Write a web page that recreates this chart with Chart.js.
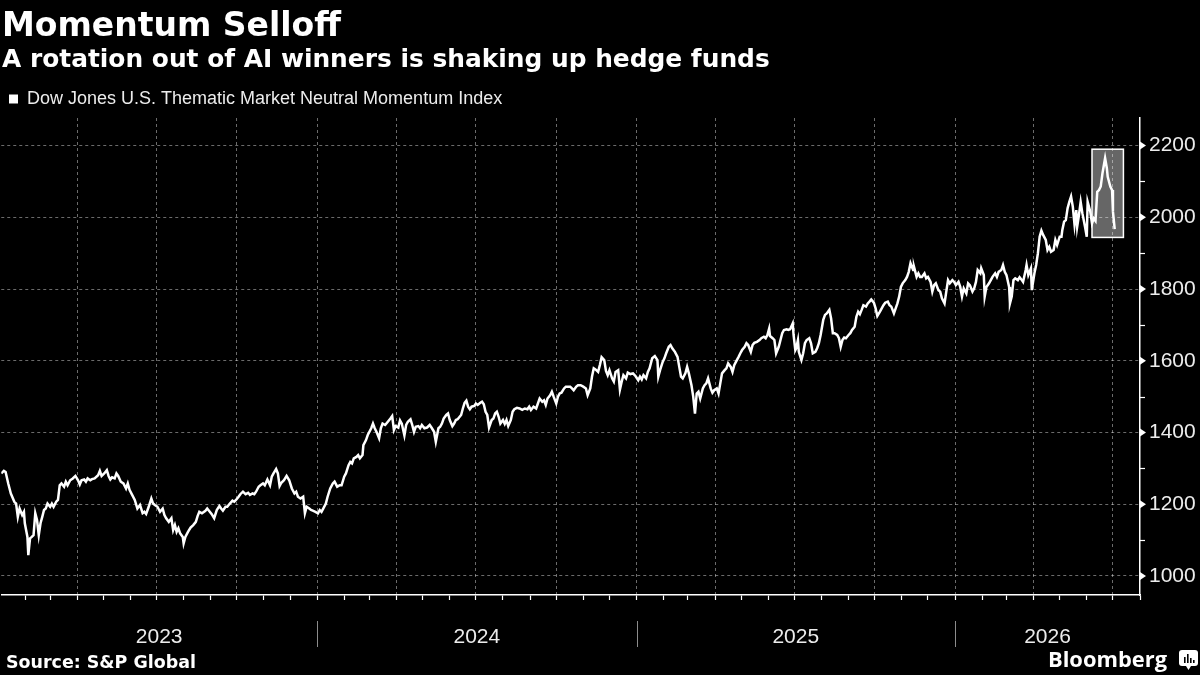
<!DOCTYPE html>
<html>
<head>
<meta charset="utf-8">
<script src="https://cdn.jsdelivr.net/npm/chart.js@4.4.1/dist/chart.umd.min.js"></script>
<style>
  html, body { margin:0; padding:0; background:#000; }
  #wrap { position:relative; width:1200px; height:675px; background:#000; overflow:hidden; }
  #chart { position:absolute; left:0; top:0; width:1200px; height:675px; }
  .txt { position:absolute; top:0; line-height:0; white-space:nowrap; color:#fff; }
  .txt .strut { display:inline-block; width:0; vertical-align:baseline; }
  #logoIcon { position:absolute; left:1179px; top:650px; }
</style>
</head>
<body>
<div id="wrap">
  <canvas id="chart" width="1200" height="675"></canvas>
  <div class="txt" style="left:2px"><span class="strut" style="height:36px"></span><span id="title">Momentum Selloff</span></div>
  <div class="txt" style="left:2px"><span class="strut" style="height:67px"></span><span id="subtitle">A rotation out of AI winners is shaking up hedge funds</span></div>
  <div class="txt" style="left:6px"><span class="strut" style="height:668px"></span><span id="source">Source: S&amp;P Global</span></div>
  <div class="txt" style="left:1048px"><span class="strut" style="height:667px"></span><span id="brand">Bloomberg</span></div>
  <svg id="logoIcon" width="19" height="21" viewBox="0 0 19 21">
    <rect x="0" y="0" width="19" height="16" rx="3" ry="3" fill="#fff"/>
    <path d="M7 16 L9.5 20 L12 16 Z" fill="#fff"/>
    <rect x="5" y="7" width="1.6" height="6" fill="#000"/>
    <rect x="8" y="4" width="1.6" height="9" fill="#000"/>
    <rect x="11" y="8" width="1.6" height="5" fill="#000"/>
    <rect x="14" y="10" width="1.6" height="3" fill="#000"/>
  </svg>
</div>
<script>
// ---------------- DATA ----------------
const seriesName = 'Dow Jones U.S. Thematic Market Neutral Momentum Index';

const dates = [
'2023-01-04','2023-01-07','2023-01-09','2023-01-12','2023-01-15','2023-01-19','2023-01-21','2023-01-23','2023-01-25','2023-01-28',
'2023-01-30','2023-01-31','2023-02-03','2023-02-04','2023-02-06','2023-02-08','2023-02-10','2023-02-12','2023-02-14','2023-02-16',
'2023-02-18','2023-02-20','2023-02-22','2023-02-24','2023-02-26','2023-03-01','2023-03-03','2023-03-05','2023-03-08','2023-03-10',
'2023-03-12','2023-03-14','2023-03-17','2023-03-19','2023-03-21','2023-03-24','2023-03-27','2023-03-30','2023-04-02','2023-04-04',
'2023-04-06','2023-04-09','2023-04-11','2023-04-13','2023-04-16','2023-04-18','2023-04-21','2023-04-25','2023-04-27','2023-04-29',
'2023-05-02','2023-05-05','2023-05-07','2023-05-09','2023-05-11','2023-05-14','2023-05-16','2023-05-18','2023-05-21','2023-05-24',
'2023-05-27','2023-05-29','2023-05-31','2023-06-03','2023-06-06','2023-06-09','2023-06-12','2023-06-15','2023-06-17','2023-06-19',
'2023-06-22','2023-06-25','2023-06-27','2023-06-29','2023-07-02','2023-07-05','2023-07-08','2023-07-10','2023-07-12','2023-07-15',
'2023-07-18','2023-07-20','2023-07-22','2023-07-24','2023-07-26','2023-07-28','2023-07-31','2023-08-01','2023-08-03','2023-08-06',
'2023-08-09','2023-08-12','2023-08-15','2023-08-17','2023-08-19','2023-08-22','2023-08-26','2023-08-28','2023-08-31','2023-09-02',
'2023-09-05','2023-09-08','2023-09-11','2023-09-13','2023-09-15','2023-09-18','2023-09-20','2023-09-23','2023-09-26','2023-09-28',
'2023-09-30','2023-10-03','2023-10-05','2023-10-08','2023-10-11','2023-10-14','2023-10-16','2023-10-19','2023-10-21','2023-10-23',
'2023-10-26','2023-10-28','2023-10-31','2023-11-02','2023-11-05','2023-11-08','2023-11-10','2023-11-12','2023-11-15','2023-11-17',
'2023-11-19','2023-11-21','2023-11-24','2023-11-27','2023-11-30','2023-12-03','2023-12-06','2023-12-08','2023-12-10','2023-12-13',
'2023-12-16','2023-12-18','2023-12-20','2023-12-23','2023-12-25','2023-12-27','2023-12-30','2024-01-02','2024-01-04','2024-01-06',
'2024-01-08','2024-01-11','2024-01-13','2024-01-16','2024-01-19','2024-01-21','2024-01-24','2024-01-27','2024-01-29','2024-02-01',
'2024-02-03','2024-02-06','2024-02-08','2024-02-10','2024-02-12','2024-02-15','2024-02-17','2024-02-19','2024-02-22','2024-02-23',
'2024-02-26','2024-02-28','2024-03-03','2024-03-05','2024-03-07','2024-03-09','2024-03-12','2024-03-14','2024-03-16','2024-03-19',
'2024-03-22','2024-03-25','2024-03-27','2024-03-29','2024-03-31','2024-04-03','2024-04-05','2024-04-07','2024-04-10','2024-04-12',
'2024-04-14','2024-04-17','2024-04-19','2024-04-21','2024-04-23','2024-04-26','2024-04-28','2024-04-30','2024-05-03','2024-05-06',
'2024-05-09','2024-05-11','2024-05-14','2024-05-16','2024-05-19','2024-05-21','2024-05-23','2024-05-25','2024-05-28','2024-05-30',
'2024-06-01','2024-06-04','2024-06-06','2024-06-08','2024-06-10','2024-06-14','2024-06-16','2024-06-18','2024-06-20','2024-06-22',
'2024-06-24','2024-06-26','2024-06-29','2024-07-01','2024-07-03','2024-07-06','2024-07-08','2024-07-10','2024-07-12','2024-07-14',
'2024-07-16','2024-07-19','2024-07-21','2024-07-23','2024-07-25','2024-07-27','2024-07-29','2024-08-01','2024-08-03','2024-08-05',
'2024-08-07','2024-08-10','2024-08-12','2024-08-14','2024-08-17','2024-08-20','2024-08-23','2024-08-26','2024-08-29','2024-08-31',
'2024-09-02','2024-09-05','2024-09-08','2024-09-10','2024-09-12','2024-09-15','2024-09-17','2024-09-19','2024-09-21','2024-09-24',
'2024-09-26','2024-09-28','2024-10-01','2024-10-03','2024-10-05','2024-10-07','2024-10-10','2024-10-12','2024-10-14','2024-10-17',
'2024-10-19','2024-10-21','2024-10-24','2024-10-26','2024-10-29','2024-11-01','2024-11-04','2024-11-06','2024-11-09','2024-11-11',
'2024-11-13','2024-11-15','2024-11-18','2024-11-20','2024-11-22','2024-11-25','2024-11-27','2024-11-29','2024-12-01','2024-12-04',
'2024-12-06','2024-12-08','2024-12-11','2024-12-13','2024-12-15','2024-12-17','2024-12-20','2024-12-22','2024-12-25','2024-12-28',
'2024-12-31','2025-01-03','2025-01-05','2025-01-07','2025-01-09','2025-01-12','2025-01-14','2025-01-16','2025-01-19','2025-01-22',
'2025-01-25','2025-01-26','2025-01-28','2025-01-31','2025-02-02','2025-02-04','2025-02-07','2025-02-09','2025-02-11','2025-02-14',
'2025-02-17','2025-02-19','2025-02-21','2025-02-23','2025-02-26','2025-02-28','2025-03-02','2025-03-05','2025-03-07','2025-03-09',
'2025-03-11','2025-03-13','2025-03-15','2025-03-18','2025-03-20','2025-03-22','2025-03-24','2025-03-27','2025-03-29','2025-03-31',
'2025-04-03','2025-04-05','2025-04-07','2025-04-09','2025-04-12','2025-04-14','2025-04-16','2025-04-19','2025-04-21','2025-04-23',
'2025-04-26','2025-04-28','2025-04-30','2025-05-02','2025-05-05','2025-05-07','2025-05-09','2025-05-12','2025-05-14','2025-05-16',
'2025-05-19','2025-05-22','2025-05-24','2025-05-27','2025-05-29','2025-05-31','2025-06-02','2025-06-03','2025-06-06','2025-06-08',
'2025-06-10','2025-06-13','2025-06-15','2025-06-17','2025-06-19','2025-06-22','2025-06-24','2025-06-26','2025-06-29','2025-06-30',
'2025-07-02','2025-07-03','2025-07-05','2025-07-06','2025-07-09','2025-07-11','2025-07-13','2025-07-15','2025-07-18','2025-07-20',
'2025-07-22','2025-07-25','2025-07-27','2025-07-29','2025-07-31','2025-08-03','2025-08-05','2025-08-07','2025-08-10','2025-08-12',
'2025-08-14','2025-08-16','2025-08-19','2025-08-21','2025-08-23','2025-08-25','2025-08-27','2025-08-29','2025-09-01','2025-09-03',
'2025-09-05','2025-09-08','2025-09-10','2025-09-12','2025-09-14','2025-09-16','2025-09-18','2025-09-21','2025-09-23','2025-09-25',
'2025-09-27','2025-09-30','2025-10-02','2025-10-04','2025-10-07','2025-10-09','2025-10-11','2025-10-13','2025-10-16','2025-10-18',
'2025-10-20','2025-10-23','2025-10-25','2025-10-27','2025-10-29','2025-10-31','2025-11-02','2025-11-05','2025-11-07','2025-11-09',
'2025-11-11','2025-11-14','2025-11-15','2025-11-18','2025-11-20','2025-11-22','2025-11-24','2025-11-27','2025-11-29','2025-12-01',
'2025-12-04','2025-12-06','2025-12-08','2025-12-10','2025-12-13','2025-12-15','2025-12-17','2025-12-20','2025-12-22','2025-12-24',
'2025-12-26','2025-12-29','2025-12-31','2026-01-02','2026-01-05','2026-01-07','2026-01-09','2026-01-11','2026-01-14','2026-01-16',
'2026-01-18','2026-01-21','2026-01-23','2026-01-25','2026-01-27','2026-01-30','2026-01-31','2026-02-03','2026-02-04','2026-02-06',
'2026-02-09','2026-02-11','2026-02-13','2026-02-16','2026-02-18','2026-02-20','2026-02-23','2026-02-25','2026-02-27','2026-03-01',
'2026-03-04','2026-03-05','2026-03-07','2026-03-09','2026-03-11','2026-03-14','2026-03-16','2026-03-18','2026-03-20','2026-03-23',
'2026-03-24','2026-03-26','2026-03-29','2026-03-30','2026-04-02','2026-04-04','2026-04-06','2026-04-08','2026-04-10','2026-04-12',
'2026-04-15','2026-04-17','2026-04-19','2026-04-21','2026-04-24','2026-04-26','2026-04-28','2026-05-01','2026-05-03','2026-05-04',
'2026-05-06','2026-05-08','2026-05-10','2026-05-12','2026-05-14','2026-05-16','2026-05-18','2026-05-20','2026-05-21','2026-05-23',
'2026-05-25','2026-05-27','2026-05-30','2026-06-01','2026-06-02','2026-06-05','2026-06-07','2026-06-09','2026-06-11','2026-06-13',
'2026-06-15','2026-06-17','2026-06-19','2026-06-22','2026-06-24','2026-06-25','2026-06-28','2026-06-30','2026-07-01','2026-07-03'
];

const values = [
1286,1293,1290,1258,1230,1207,1202,1165,1188,1170,
1179,1147,1109,1058,1105,1109,1114,1175,1156,1114,
1147,1165,1184,1188,1202,1193,1202,1193,1207,1212,
1253,1258,1249,1263,1253,1267,1272,1279,1267,1255,
1267,1269,1263,1272,1267,1270,1272,1281,1293,1279,
1286,1295,1279,1269,1275,1272,1286,1279,1263,1258,
1244,1258,1240,1226,1212,1188,1198,1175,1179,1173,
1193,1216,1202,1198,1193,1179,1188,1170,1161,1151,
1161,1128,1142,1123,1133,1119,1109,1091,1109,1123,
1135,1142,1151,1167,1179,1175,1182,1188,1179,1173,
1161,1184,1195,1188,1182,1193,1193,1202,1210,1207,
1212,1221,1228,1235,1228,1232,1226,1230,1228,1235,
1249,1253,1258,1253,1269,1253,1277,1286,1298,1286,
1251,1260,1267,1279,1267,1244,1230,1235,1221,1216,
1221,1175,1193,1188,1184,1182,1179,1175,1184,1179,
1188,1202,1221,1244,1258,1263,1249,1253,1253,1277,
1286,1309,1318,1314,1328,1332,1337,1328,1337,1365,
1379,1393,1412,1425,1412,1402,1384,1412,1425,1421,
1430,1439,1446,1407,1418,1414,1434,1425,1392,1421,
1430,1437,1421,1402,1416,1418,1412,1421,1412,1414,
1421,1414,1402,1374,1412,1416,1425,1439,1449,1453,
1435,1418,1425,1435,1437,1449,1467,1483,1489,1472,
1465,1472,1474,1481,1477,1483,1486,1479,1458,1449,
1414,1435,1439,1453,1458,1444,1425,1435,1424,1435,
1418,1435,1458,1465,1469,1467,1463,1467,1465,1472,
1463,1472,1467,1481,1495,1486,1490,1477,1495,1504,
1514,1500,1481,1500,1509,1511,1523,1528,1528,1528,
1523,1518,1528,1532,1532,1528,1523,1504,1523,1556,
1579,1576,1569,1588,1610,1602,1572,1560,1574,1551,
1542,1569,1574,1520,1542,1560,1551,1567,1563,1565,
1557,1546,1556,1548,1560,1551,1569,1579,1607,1613,
1602,1556,1574,1597,1607,1621,1639,1644,1635,1625,
1611,1583,1556,1551,1565,1583,1565,1532,1500,1453,
1509,1514,1495,1523,1532,1537,1551,1523,1511,1518,
1523,1509,1537,1565,1574,1579,1593,1583,1569,1588,
1602,1611,1621,1630,1639,1649,1644,1625,1644,1650,
1653,1658,1663,1667,1663,1672,1690,1669,1663,1658,
1621,1639,1658,1677,1686,1688,1686,1688,1704,1672,
1630,1635,1658,1625,1602,1621,1649,1658,1663,1649,
1621,1625,1635,1649,1672,1714,1728,1732,1742,1718,
1677,1677,1672,1663,1639,1658,1665,1663,1672,1677,
1686,1695,1723,1737,1730,1742,1755,1751,1760,1765,
1771,1762,1746,1725,1737,1746,1755,1762,1765,1755,
1751,1732,1746,1760,1779,1806,1816,1825,1834,1848,
1872,1853,1862,1834,1844,1834,1834,1844,1830,1834,
1820,1793,1811,1816,1797,1793,1774,1760,1793,1825,
1816,1825,1820,1811,1820,1806,1779,1802,1788,1816,
1811,1793,1802,1820,1853,1844,1858,1839,1779,1806,
1816,1825,1834,1844,1834,1848,1853,1867,1848,1839,
1806,1760,1779,1825,1830,1825,1833,1827,1820,1853,
1867,1839,1858,1797,1844,1867,1900,1946,1963,1951,
1937,1909,1918,1904,1909,1937,1923,1946,1946,1965,
1988,1992,2025,2043,2058,2030,1979,2020,1974,2006,
2043,2011,1974,1946,2043,2016,1983,1997,1990,2071,
2076,2086,2123,2165,2137,2113,2086,2076,2016,1967
];

const years = ['2023', '2024', '2025', '2026'];
const yMajorTicks = [1000, 1200, 1400, 1600, 1800, 2000, 2200];
const yMinorTicks = [1100, 1300, 1500, 1700, 1900, 2100];
const yMin = 947, yMax = 2277;
const axisStart = '2023-01-04', axisEnd = '2026-08-01';
// highlighted period
const boxStart = '2026-06-07', boxEnd = '2026-07-13', boxLow = 1944, boxHigh = 2190;

// ---------------- HELPERS ----------------
const EPOCH = Date.UTC(2023, 0, 1);
function toDay(s) { const p = s.split('-').map(Number); return (Date.UTC(p[0], p[1] - 1, p[2]) - EPOCH) / 86400000; }
function monthOf(day) { return new Date(EPOCH + day * 86400000).getUTCMonth(); }

function fitText(id, family, weight, target) {
  const el = document.getElementById(id);
  const c = document.createElement('canvas').getContext('2d');
  c.font = weight + ' 100px ' + family;
  const w = c.measureText(el.textContent).width;
  el.style.fontFamily = family;
  el.style.fontWeight = weight;
  el.style.fontSize = (100 * target / w).toFixed(2) + 'px';
}
fitText('title', '"DejaVu Sans"', 'bold', 339);
fitText('subtitle', '"DejaVu Sans"', 'bold', 768);
fitText('source', '"DejaVu Sans"', 'bold', 190);
fitText('brand', '"Open Sans"', 'bold', 119);

const xMin = toDay(axisStart), xMax = toDay(axisEnd);
const monthTicks = [];
for (let yr = 2023; yr <= 2026; yr++) {
  for (let m = 0; m < 12; m++) {
    const d = (Date.UTC(yr, m, 1) - EPOCH) / 86400000;
    if (d >= xMin && d <= xMax) monthTicks.push(d);
  }
}
const points = dates.map((d, i) => ({ x: toDay(d), y: values[i] }));

const GRID = 'rgba(255,255,255,0.42)';
const TXT = '#ececec';

const decor = {
  id: 'decor',
  beforeDatasetsDraw(chart) {
    const { ctx, scales: { x, y } } = chart;
    const x0 = x.getPixelForValue(toDay(boxStart)), x1 = x.getPixelForValue(toDay(boxEnd));
    const y0 = y.getPixelForValue(boxHigh), y1 = y.getPixelForValue(boxLow);
    ctx.save();
    ctx.fillStyle = 'rgba(255,255,255,0.40)';
    ctx.fillRect(x0, y0, x1 - x0, y1 - y0);
    ctx.strokeStyle = '#ffffff';
    ctx.lineWidth = 1.5;
    ctx.strokeRect(x0, y0, x1 - x0, y1 - y0);
    ctx.restore();
  },
  afterDraw(chart) {
    const { ctx, scales: { x, y }, chartArea } = chart;
    const r = chartArea.right;
    ctx.save();
    ctx.fillStyle = '#ffffff';
    yMajorTicks.forEach(v => {
      const py = y.getPixelForValue(v);
      ctx.beginPath();
      ctx.moveTo(r, py - 4);
      ctx.lineTo(r + 6, py);
      ctx.lineTo(r, py + 4);
      ctx.closePath();
      ctx.fill();
    });
    ctx.strokeStyle = '#ffffff';
    ctx.lineWidth = 1.2;
    yMinorTicks.forEach(v => {
      const py = Math.round(y.getPixelForValue(v)) + 0.5;
      ctx.beginPath();
      ctx.moveTo(r - 1, py);
      ctx.lineTo(r + 5, py);
      ctx.stroke();
    });
    ctx.font = '21px "Liberation Sans"';
    ctx.fillStyle = TXT;
    ctx.textAlign = 'center';
    ctx.textBaseline = 'alphabetic';
    years.forEach((yr, i) => {
      const start = toDay(yr + '-01-01');
      const end = toDay((Number(yr) + 1) + '-01-01');
      const a = x.getPixelForValue(Math.max(start, x.min));
      const b = x.getPixelForValue(Math.min(end, x.max));
      ctx.fillText(yr, (a + b) / 2, 643);
      if (i > 0) {
        const px = Math.round(x.getPixelForValue(start)) + 0.5;
        ctx.strokeStyle = '#8c8c8c';
        ctx.lineWidth = 1;
        ctx.beginPath();
        ctx.moveTo(px, 621);
        ctx.lineTo(px, 647);
        ctx.stroke();
      }
    });
    ctx.restore();
  }
};

const chart = new Chart(document.getElementById('chart'), {
  type: 'line',
  data: {
    datasets: [{
      label: seriesName,
      data: points,
      borderColor: '#ffffff',
      backgroundColor: '#ffffff',
      borderWidth: 2.5,
      pointRadius: 0,
      pointHoverRadius: 0,
      tension: 0,
      fill: false
    }]
  },
  options: {
    responsive: false,
    animation: false,
    events: [],
    layout: { padding: { top: 82, left: 0, right: 0, bottom: 0 } },
    plugins: {
      tooltip: { enabled: false },
      legend: {
        display: true,
        position: 'top',
        align: 'start',
        labels: {
          color: TXT,
          font: { family: '"Liberation Sans"', size: 18 },
          boxWidth: 9,
          boxHeight: 9,
          padding: 9,
          generateLabels: () => [{
            text: seriesName, fillStyle: '#ffffff', strokeStyle: '#ffffff', fontColor: TXT,
            lineWidth: 0, hidden: false, datasetIndex: 0
          }]
        }
      }
    },
    scales: {
      x: {
        type: 'linear',
        min: xMin,
        max: xMax,
        afterBuildTicks: s => { s.ticks = monthTicks.map(v => ({ value: v })); },
        afterFit: s => { s.height = 80; },
        ticks: { display: false, autoSkip: false },
        grid: {
          color: c => (c.tick && monthOf(c.tick.value) % 3 === 0) ? GRID : 'rgba(0,0,0,0)',
          lineWidth: 1,
          drawTicks: true,
          tickLength: 5,
          tickColor: '#ffffff',
          tickWidth: 1.2
        },
        border: { display: true, color: '#ffffff', width: 1.5, dash: [3, 3] }
      },
      y: {
        type: 'linear',
        position: 'right',
        min: yMin,
        max: yMax,
        afterBuildTicks: s => { s.ticks = yMajorTicks.concat(yMinorTicks).sort((a, b) => a - b).map(v => ({ value: v })); },
        afterFit: s => { s.width = 60; },
        ticks: {
          color: TXT,
          font: { family: '"Liberation Sans"', size: 21 },
          padding: 9,
          autoSkip: false,
          callback: v => yMajorTicks.includes(v) ? String(v) : ''
        },
        grid: {
          color: c => (c.tick && yMajorTicks.includes(c.tick.value)) ? GRID : 'rgba(0,0,0,0)',
          lineWidth: 1,
          drawTicks: false
        },
        border: { display: true, color: '#ffffff', width: 1.5, dash: [3, 3] }
      }
    }
  },
  plugins: [decor]
});

const dt = 118 - chart.chartArea.top;
if (Math.abs(dt) > 0.3) {
  chart.options.layout.padding.top += dt;
  chart.update('none');
}
</script>
</body>
</html>
